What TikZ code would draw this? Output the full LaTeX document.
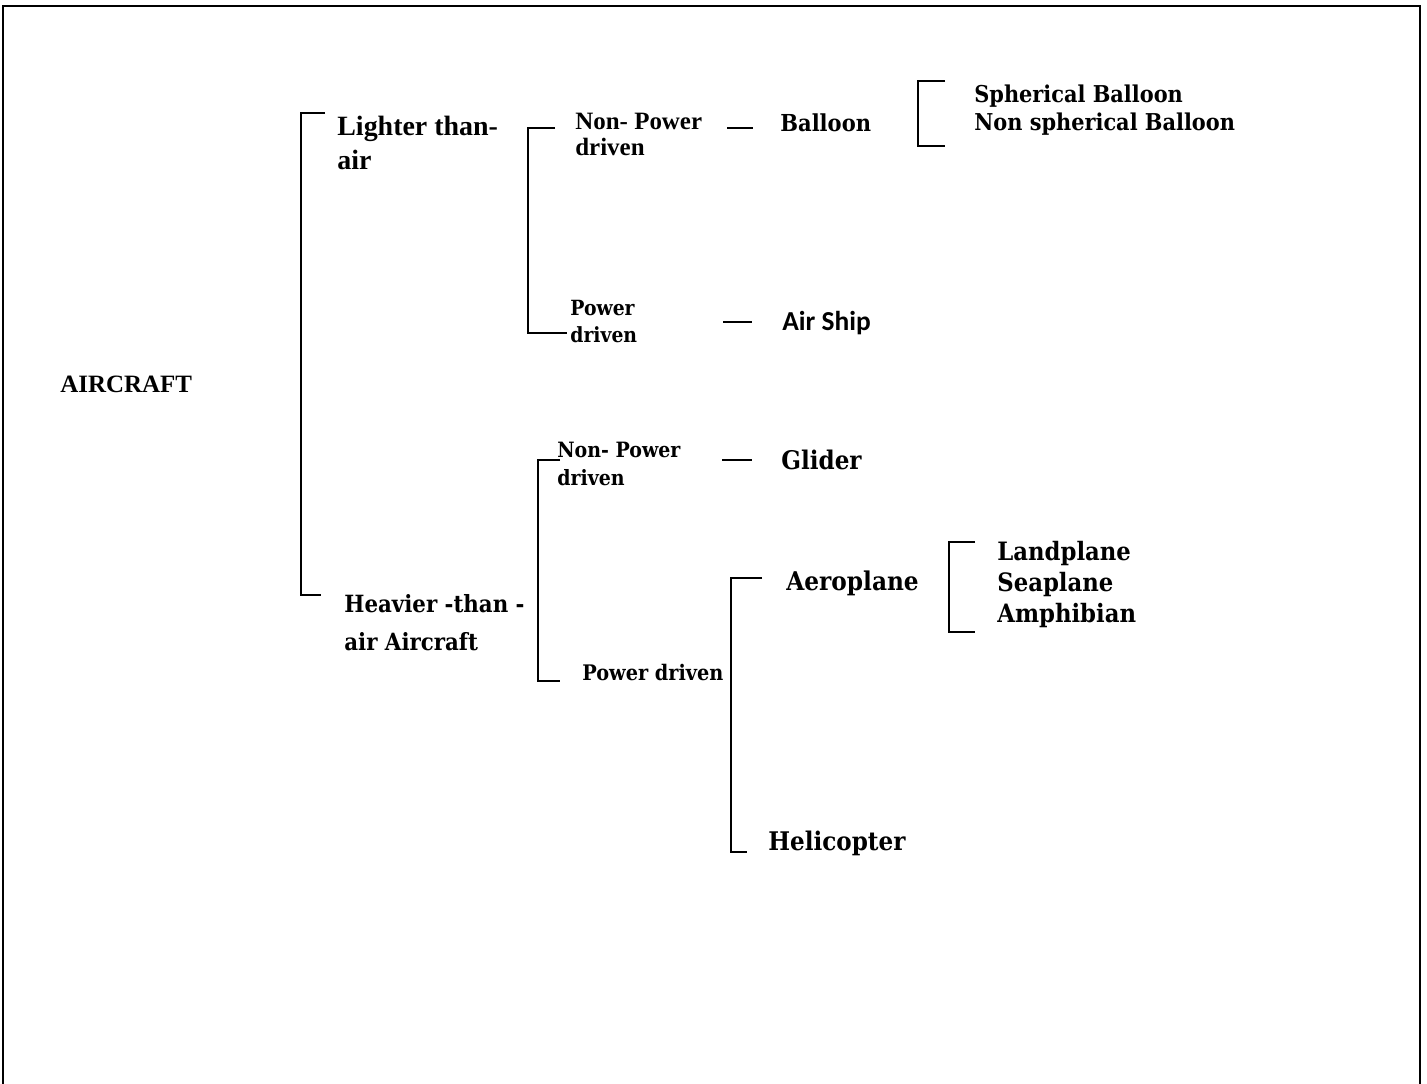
\documentclass[tikz,border=0pt]{standalone}
\usepackage{fontspec}
\setmainfont{Liberation Serif}
\newfontfamily\camfont[FakeStretch=0.9]{DejaVu Serif}
\newfontfamily\calfont{Carlito}
\newcommand{\setfs}[2]{\fontsize{#1}{#2}\selectfont}
\usetikzlibrary{positioning}

\begin{document}
\begin{tikzpicture}[x=0.02cm, y=-0.02cm,
    lbl/.style={anchor=base west, inner sep=0pt, align=left},
    tnr/.style={lbl, font=\bfseries\setfs{#1}{1.2em}},
    cam/.style={lbl, font=\camfont\bfseries\setfs{#1}{1.2em}},
    brk/.style={line width=1.1pt}
  ]
  \useasboundingbox (0,0) rectangle (1427,1084);
  % frame
  \draw[line width=1.3pt] (3,1084) -- (3,6) -- (1420,6) -- (1420,1084);

  % Nodes (multi-line ones sit on the baseline of their last line)
  \node (aircraft) [tnr=14.2pt] at (60,393) {AIRCRAFT};
  \node (lighter) [lbl, font=\bfseries\setfs{15.9pt}{19.8pt}] at (337,170) {Lighter than-\\air};
  \node (heavier) [lbl, font=\camfont\bfseries\setfs{13.5pt}{21.5pt}] at (344,650) {Heavier -than -\\air Aircraft};

  \node (npLight) [lbl, font=\bfseries\setfs{14.2pt}{15.3pt}] at (575,156) {Non- Power\\driven};
  \node (pLight) [lbl, font=\camfont\bfseries\setfs{11.9pt}{15.9pt}] at (570,343) {Power\\driven};
  \node (npHeavy) [lbl, font=\camfont\bfseries\setfs{12pt}{15.9pt}] at (557,485) {Non- Power\\driven};
  \node (pHeavy) [cam=12.2pt] at (582,680) {Power driven};

  \node (balloon) [cam=13.3pt] at (780,132) {Balloon};
  \node (balloonKinds) [lbl, font=\camfont\bfseries\setfs{13.2pt}{16.4pt}] at (974,131) {Spherical Balloon\\Non spherical Balloon};
  \node (airship) [lbl, font=\calfont\bfseries\setfs{15.6pt}{18pt}] at (782,331) {Air Ship};
  \node (glider) [cam=14.6pt] at (781,470) {Glider};
  \node (aeroplane) [cam=14.7pt] at (786,590) {Aeroplane};
  \node (planeKinds) [lbl, font=\camfont\bfseries\setfs{14.4pt}{17.6pt}] at (997,622) {Landplane\\Seaplane\\Amphibian};
  \node (helicopter) [cam=14.6pt] at (768,850) {Helicopter};

  % Brackets
  \coordinate (b1t) at (301,113);
  \coordinate (b1b) at (301,595);
  \coordinate (b2t) at (528,128);
  \coordinate (b2b) at (528,333);
  \coordinate (b3t) at (918,81);
  \coordinate (b3b) at (918,146);
  \coordinate (b4t) at (538,460);
  \coordinate (b4b) at (538,681);
  \coordinate (b5t) at (731,578);
  \coordinate (b5b) at (731,852);
  \coordinate (b6t) at (949,542);
  \coordinate (b6b) at (949,632);
  \draw[brk] (b1t) +(24,0) -- (b1t) -- (b1b) -- +(20,0);
  \draw[brk] (b2t) +(27,0) -- (b2t) -- (b2b) -- +(39,0);
  \draw[brk] (b3t) +(27,0) -- (b3t) -- (b3b) -- +(27,0);
  \draw[brk] (b4t) +(22,0) -- (b4t) -- (b4b) -- +(22,0);
  \draw[brk] (b5t) +(31,0) -- (b5t) -- (b5b) -- +(16,0);
  \draw[brk] (b6t) +(26,0) -- (b6t) -- (b6b) -- +(26,0);

  % Dashes
  \coordinate (d1) at (727,128);
  \coordinate (d2) at (723,322);
  \coordinate (d3) at (722,460);
  \draw[brk] (d1) -- +(26,0);
  \draw[brk] (d2) -- +(29,0);
  \draw[brk] (d3) -- +(30,0);
\end{tikzpicture}
\end{document}
